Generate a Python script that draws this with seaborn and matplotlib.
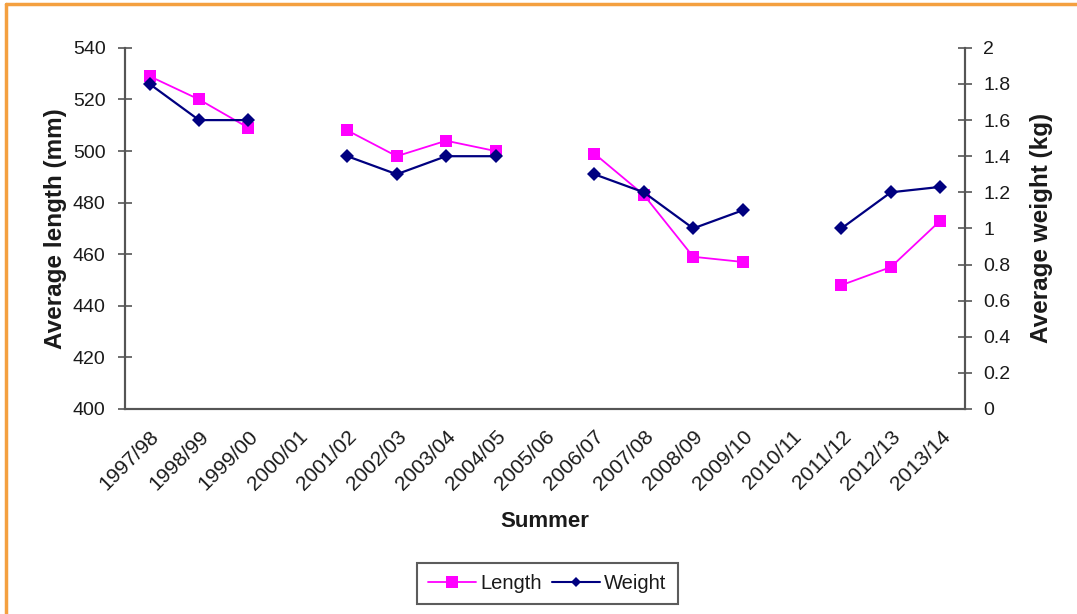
import numpy as np
import pandas as pd
import matplotlib.pyplot as plt
from matplotlib.lines import Line2D
import seaborn as sns

seasons = ['1997/98', '1998/99', '1999/00', '2000/01', '2001/02', '2002/03',
           '2003/04', '2004/05', '2005/06', '2006/07', '2007/08', '2008/09',
           '2009/10', '2010/11', '2011/12', '2012/13', '2013/14']
length_mm = [529, 520, 509, np.nan, 508, 498, 504, 500, np.nan, 499, 483,
             459, 457, np.nan, 448, 455, 473]
weight_kg = [1.8, 1.6, 1.6, np.nan, 1.4, 1.3, 1.4, 1.4, np.nan, 1.3, 1.2,
             1.0, 1.1, np.nan, 1.0, 1.2, 1.23]

sns.set_style("white")
plt.rcParams['font.family'] = ['Liberation Sans', 'DejaVu Sans']

df = pd.DataFrame({'idx': range(len(seasons)), 'Summer': seasons,
                   'Length': length_mm, 'Weight': weight_kg})

fig = plt.figure(figsize=(10.77, 6.14), dpi=100)
ax = fig.add_axes([0.116, 0.334, 0.78, 0.588])
ax2 = ax.twinx()

axis_col = '#555555'
txt_col = '#1a1a1a'
# draw each contiguous run so gaps stay open
for seg_id, seg in df.groupby(df['Length'].isna().cumsum()):
    seg = seg.dropna()
    sns.lineplot(data=seg, x='idx', y='Length', ax=ax, color='#FF00FF',
                 marker='s', markersize=9, markeredgewidth=0, linewidth=1.3)
    sns.lineplot(data=seg, x='idx', y='Weight', ax=ax2, color='#000080',
                 marker='D', markersize=7, markeredgewidth=0, linewidth=1.6)

ax.set_xlim(-0.5, len(seasons) - 0.5)
ax.set_ylim(400, 540)
ax2.set_ylim(0, 2)
ax.set_yticks(range(400, 541, 20))
ax2.set_yticks(np.arange(0, 2.01, 0.2))
ax2.set_yticklabels(['0', '0.2', '0.4', '0.6', '0.8', '1', '1.2', '1.4',
                     '1.6', '1.8', '2'])

ax.set_xticks(range(len(seasons)))
ax.set_xticklabels(seasons, rotation=45, ha='right', rotation_mode='anchor')
ax.set_xticks(np.arange(-0.5, len(seasons), 1), minor=True)
ax.tick_params(axis='x', which='major', length=0, pad=13, labelsize=15,
               colors=txt_col)
ax.tick_params(axis='x', which='minor', length=10, direction='inout',
               color=axis_col, width=1.2)
ax.tick_params(axis='y', length=10, direction='inout', color=axis_col,
               width=1.2, labelsize=14, pad=9, labelcolor=txt_col)
ax2.tick_params(axis='y', length=10, direction='inout', color=axis_col,
                width=1.2, labelsize=14, pad=8, labelcolor=txt_col)

for a in (ax, ax2):
    a.spines['top'].set_visible(False)
    for s in ('left', 'right', 'bottom'):
        a.spines[s].set_color(axis_col)
        a.spines[s].set_linewidth(1.5)

ax.set_xlabel('Summer', fontsize=16, fontweight='bold', labelpad=12,
              color=txt_col)
ax.set_ylabel('Average length (mm)', fontsize=17.5, fontweight='bold',
              labelpad=4, color=txt_col)
ax2.set_ylabel('Average weight (kg)', fontsize=17.5, fontweight='bold',
               labelpad=14, color=txt_col)

handles = [Line2D([], [], color='#FF00FF', marker='s', markersize=9,
                  markeredgewidth=0, linewidth=1.3),
           Line2D([], [], color='#000080', marker='D', markersize=5,
                  markeredgewidth=0, linewidth=1.5)]
leg = fig.legend(handles, ['Length', 'Weight'], loc='center',
                 bbox_to_anchor=(0.508, 0.049), ncol=2, fontsize=14.5,
                 frameon=True, fancybox=False, edgecolor='#333333',
                 handlelength=2.4, handletextpad=0.2, columnspacing=0.5,
                 borderpad=0.55, labelcolor=txt_col)
leg.get_frame().set_linewidth(1.5)

# orange frame around the chart area
fig.add_artist(Line2D([0.006, 0.006], [0, 0.993], color='#F4A040',
                      linewidth=2.5, transform=fig.transFigure))
fig.add_artist(Line2D([0.006, 1], [0.993, 0.993], color='#F4A040',
                      linewidth=2.5, transform=fig.transFigure))

fig.savefig('out.png', dpi=100)
